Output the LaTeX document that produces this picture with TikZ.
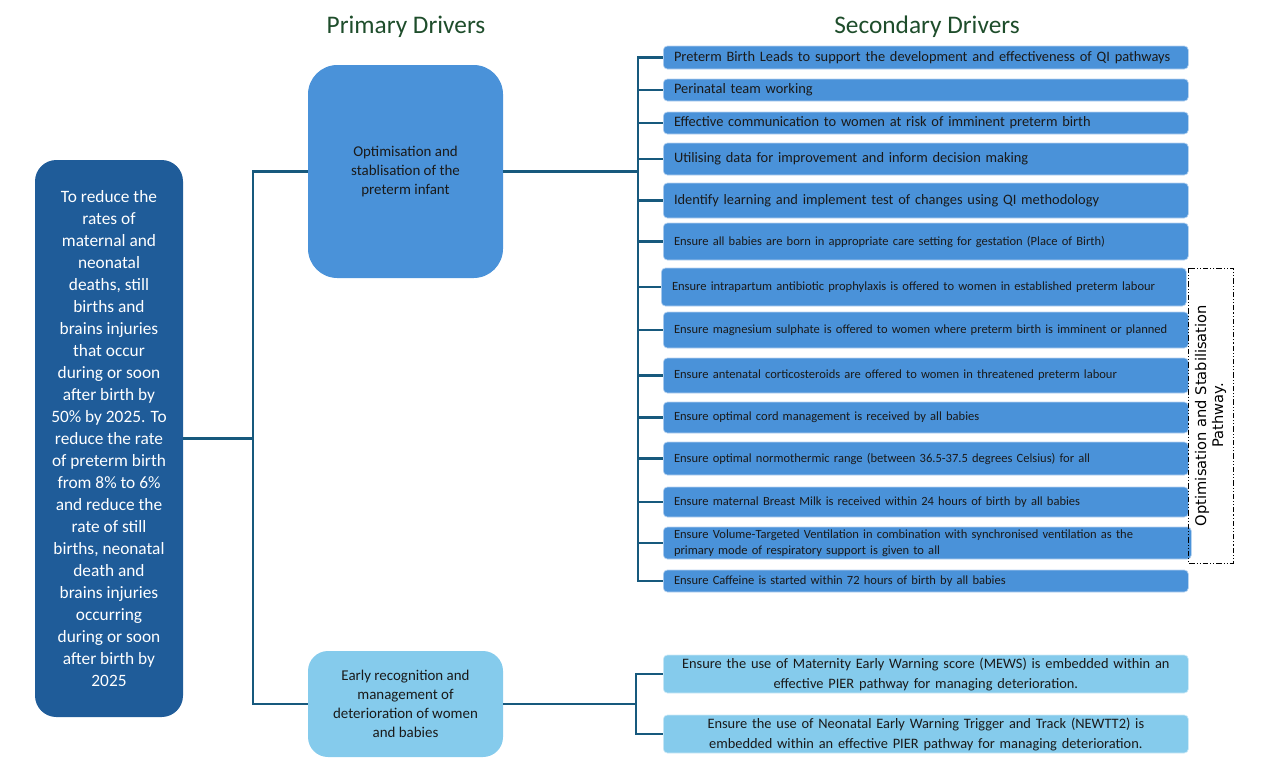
\documentclass[tikz,border=0pt]{standalone}
\usepackage{fontspec}
\setmainfont{Carlito}
\newfontfamily\pathfont{DejaVu Sans}
\definecolor{goalblue}{HTML}{1F5C99}
\definecolor{midblue}{HTML}{4A92D9}
\definecolor{paleblue}{HTML}{85CBEC}
\definecolor{linkblue}{HTML}{17597D}
\definecolor{headgreen}{HTML}{1E4D2B}
\definecolor{inktext}{HTML}{1A1A1A}
\begin{document}
\begin{tikzpicture}[x=0.75pt,y=-0.75pt,
		link/.style={draw=linkblue, line width=1.9pt},
		head/.style={text=headgreen, font=\fontsize{19}{22}\selectfont},
		goalbox/.style={fill=goalblue, text=white, rounded corners=16pt, inner sep=0pt,
			minimum width=111pt, minimum height=417.75pt, align=center,
			font=\fontsize{13}{16.5}\selectfont},
		primbox/.style={text=inktext, inner sep=0pt, minimum width=146.25pt, align=center,
			font=\fontsize{11.2}{14.3}\selectfont},
		secbox/.style={anchor=west, fill=midblue, draw=white!60!midblue, line width=0.5pt,
			rounded corners=3pt, text=inktext, inner xsep=8pt, inner ysep=0pt,
			text width=377.75pt, align=left, font=\fontsize{10.8}{12}\selectfont},
		secsmall/.style={secbox, font=\fontsize{9.4}{12}\selectfont},
		deterbox/.style={secbox, fill=paleblue, draw=white!60!paleblue, align=center,
			minimum height=28.5pt, font=\fontsize{10.8}{15}\selectfont},
		pathbox/.style={draw=black, line width=0.6pt,
			dash pattern=on 4pt off 1.5pt on 0.8pt off 1.5pt on 0.8pt off 1.5pt,
			rotate=90, minimum width=221.25pt, minimum height=33.75pt, inner sep=0pt,
			align=center, font=\pathfont\fontsize{11}{12.75}\selectfont}]
	\useasboundingbox (0,0) rectangle (1281,775);

	% headings
	\node (primhead) [head] at (406,27) {Primary Drivers};
	\node (sechead) [head] at (927,27) {Secondary Drivers};

	% aim
	\node (goal) [goalbox] at (109,438.5) {To reduce the\\rates of\\maternal and\\neonatal\\deaths, still\\births and\\brains injuries\\that occur\\during or soon\\after birth by\\50\% by 2025. To\\reduce the rate\\of preterm birth\\from 8\% to 6\%\\and reduce the\\rate of still\\births, neonatal\\death and\\brains injuries\\occurring\\during or soon\\after birth by\\2025};

	% primary drivers
	\node (prim1) [primbox, fill=midblue, rounded corners=22pt, minimum height=159.75pt] at (405.5,171.5) {Optimisation and\\stablisation of the\\preterm infant};
	\node (prim2) [primbox, fill=paleblue, rounded corners=15pt, minimum height=79.5pt] at (405.5,704) {Early recognition and\\management of\\deterioration of women\\and babies};

	% secondary drivers
	\node (sec1) [secbox, minimum height=17.25pt] at (663,57.5) {Preterm Birth Leads to support the development and effectiveness of QI pathways};
	\node (sec2) [secbox, minimum height=16.5pt] at (663,90) {Perinatal team working};
	\node (sec3) [secbox, minimum height=16.5pt] at (663,123) {Effective communication to women at risk of imminent preterm birth};
	\node (sec4) [secbox, minimum height=24pt] at (663,159) {Utilising data for improvement and inform decision making};
	\node (sec5) [secbox, minimum height=26.25pt] at (663,200.5) {Identify learning and implement test of changes using QI methodology};
	\node (sec6) [secsmall, minimum height=27.75pt] at (663,241.5) {Ensure all babies are born in appropriate care setting for gestation (Place of Birth)};
	\node (sec7) [secsmall, minimum height=28.5pt] at (661,287) {Ensure intrapartum antibiotic prophylaxis is offered to women in established preterm labour};
	\node (sec8) [secsmall, minimum height=27pt] at (663,330) {Ensure magnesium sulphate is offered to women where preterm birth is imminent or planned};
	\node (sec9) [secsmall, minimum height=26.25pt] at (663,375.5) {Ensure antenatal corticosteroids are offered to women in threatened preterm labour};
	\node (sec10) [secsmall, minimum height=23.25pt] at (663,417.5) {Ensure optimal cord management is received by all babies};
	\node (sec11) [secsmall, minimum height=24.75pt] at (663,458.5) {Ensure optimal normothermic range (between 36.5-37.5 degrees Celsius) for all};
	\node (sec12) [secsmall, minimum height=22.5pt] at (663,502) {Ensure maternal Breast Milk is received within 24 hours of birth by all babies};
	\node (sec13) [secsmall, minimum height=24pt, text width=380pt] at (663,543) {Ensure Volume-Targeted Ventilation in combination with synchronised ventilation as the\\primary mode of respiratory support is given to all};
	\node (sec14) [secsmall, minimum height=16.5pt] at (663,581) {Ensure Caffeine is started within 72 hours of birth by all babies};

	\node (deter1) [deterbox] at (663,674) {Ensure the use of Maternity Early Warning score (MEWS) is embedded within an\\effective PIER pathway for managing deterioration.};
	\node (deter2) [deterbox] at (663,734) {Ensure the use of Neonatal Early Warning Trigger and Track (NEWTT2) is\\embedded within an effective PIER pathway for managing deterioration.};

	% pathway bracket
	\node (pathway) [pathbox] at (1210.5,415.5) {Optimisation and Stabilisation\\Pathway.};

	% connectors
	\coordinate (trunkA) at (253,0);
	\coordinate (trunkB) at (638,0);
	\coordinate (trunkC) at (636,0);
	\draw [link] (goal.east) -- (goal.east -| trunkA);
	\draw [link] (prim1.west) -| (trunkA |- prim2.west) -- (prim2.west);
	\draw [link] (prim1.east) -- (prim1.east -| trunkB);
	\draw [link] (sec1.west) -| (trunkB |- sec14.west) -- (sec14.west);
	\foreach \i in {2,...,13}
		\draw [link] (trunkB |- sec\i.west) -- (sec\i.west);
	\draw [link] (prim2.east) -- (prim2.east -| trunkC);
	\draw [link] (deter1.west) -| (trunkC |- deter2.west) -- (deter2.west);
\end{tikzpicture}
\end{document}
